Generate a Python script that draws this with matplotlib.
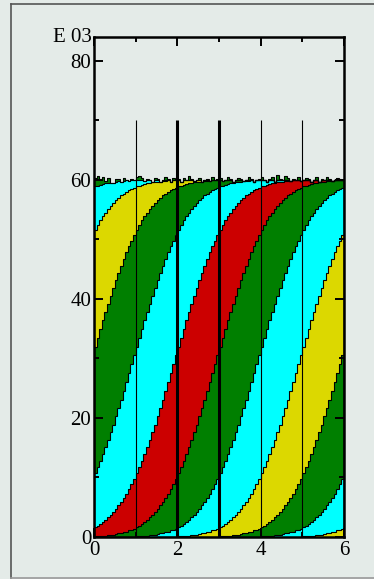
import numpy as np
import matplotlib
matplotlib.use("Agg")
import matplotlib.pyplot as plt
from matplotlib.lines import Line2D

plt.rcParams['font.family'] = ['Liberation Serif', 'DejaVu Serif']

# one band edge, 16 bins per unit, starting one unit
# left of the curve that passes 1.5 at x=0 (values in thousands)
edge_profile = [
    0.1, 0.1, 0.2, 0.2, 0.2, 0.3, 0.3, 0.4, 0.5, 0.6, 0.7, 0.8, 0.9, 1.1, 1.2, 1.4,
    1.7, 1.9, 2.2, 2.5, 2.9, 3.3, 3.7, 4.2, 4.7, 5.3, 5.9, 6.6, 7.3, 8.1, 8.9, 9.8,
    10.8, 11.8, 12.8, 14.0, 15.1, 16.3, 17.6, 18.9, 20.3, 21.7, 23.1, 24.5, 26.0, 27.5, 29.0, 30.5,
    31.9, 33.4, 34.9, 36.4, 37.8, 39.2, 40.5, 41.9, 43.2, 44.4, 45.6, 46.7, 47.8, 48.9, 49.8, 50.7,
    51.6, 52.4, 53.2, 53.9, 54.5, 55.1, 55.6, 56.1, 56.6, 57.0, 57.4, 57.7, 58.0, 58.3, 58.5, 58.7,
    58.9, 59.0, 59.2, 59.3, 59.4, 59.5, 59.6, 59.6, 59.7, 59.8, 59.8, 59.8, 59.9, 59.9, 59.9, 59.9,
]

# total height of the stack per bin (top edge, thousands)
stack_total = [
    60.3, 60.6, 60.2, 60.4, 59.8, 60.3, 59.5, 59.4, 60.1, 60.2, 59.7, 60.3, 60.0, 59.8, 60.2, 59.9,
    60.4, 60.7, 60.3, 59.8, 60.2, 59.9, 59.6, 60.3, 60.1, 59.7, 60.0, 60.5, 60.2, 59.6, 60.3, 59.9,
    60.2, 59.7, 60.3, 60.0, 60.6, 60.1, 59.8, 60.0, 60.3, 59.6, 60.0, 60.2, 59.8, 60.5, 59.9, 60.2,
    60.3, 59.8, 60.0, 60.5, 60.1, 59.6, 60.0, 60.3, 60.2, 59.8, 60.0, 60.4, 60.1, 59.6, 60.0, 60.2,
    60.5, 60.0, 59.7, 60.2, 60.4, 59.6, 60.9, 60.1, 59.9, 60.7, 60.3, 59.8, 60.2, 59.9, 60.5, 59.8,
    60.0, 60.3, 60.1, 59.7, 60.0, 60.4, 59.6, 60.2, 60.0, 60.5, 60.1, 59.8, 60.0, 60.3, 60.1, 60.0,
]

# shift (in x units) of each band edge, bottom to top
edge_shifts = [6, 5, 4, 3, 2, 1, 0, -1, -2, -3, -4]
# band colours, bottom to top
band_colors = ['#dcd800', '#00ffff', '#007f00', '#dcd800', '#00ffff', '#007f00',
               '#cc0000', '#00ffff', '#007f00', '#dcd800', '#00ffff', '#007f00']

marker_x = [1, 2, 3, 4, 5]
marker_lw = [0.8, 2.2, 2.2, 0.8, 0.8]
marker_top = 70

bins_per_unit = 16
x_min, x_max = 0, 6
y_max = 84
bg = '#e4ebe8'

nb = (x_max - x_min) * bins_per_unit
edges = np.linspace(x_min, x_max, nb + 1)
prof = np.array(edge_profile)
total = np.array(stack_total)

bounds = [np.zeros(nb)]
idx = np.arange(nb)
for s in edge_shifts:
    k = idx + bins_per_unit * (1 - s)
    c = np.where(k < 0, 0.0, prof[np.clip(k, 0, len(prof) - 1)])
    c = np.where(k >= len(prof), 60.0, c)
    bounds.append(np.minimum(c, total))
bounds.append(total)

fig = plt.figure(figsize=(3.74, 5.79), dpi=100, facecolor=bg)
ax = fig.add_axes([94 / 374, 1 - 537 / 579, 250 / 374, 500 / 579])
ax.set_facecolor(bg)

for i, col in enumerate(band_colors):
    ax.stairs(bounds[i + 1], edges, baseline=bounds[i], fill=True,
              color=col, lw=0, zorder=1)
for b in bounds[1:]:
    ax.stairs(b, edges, color='black', lw=0.8, zorder=2)

ax.vlines(marker_x, 0, marker_top, colors='black', linewidths=marker_lw, zorder=3)

ax.set_xlim(x_min, x_max)
ax.set_ylim(0, y_max)
ax.set_xticks([0, 2, 4, 6])
ax.set_xticks([1, 3, 5], minor=True)
ax.set_yticks([0, 20, 40, 60, 80])
ax.set_yticks([10, 30, 50, 70], minor=True)
ax.tick_params(which='both', direction='in', top=True, right=True,
               width=1.4, labelsize=15, zorder=4)
ax.tick_params(which='major', length=6.5)
ax.tick_params(which='minor', length=3.6)
ax.tick_params(axis='x', pad=3)
ax.tick_params(axis='y', pad=2)
for sp in ax.spines.values():
    sp.set_linewidth(1.8)
    sp.set_zorder(5)

ax.text(-0.01, 1.0, 'E 03', transform=ax.transAxes, ha='right', va='center',
        fontsize=15)

# canvas border
fig.add_artist(Line2D([11 / 374, 11 / 374], [1 - 4 / 579, 1 - 578 / 579],
                      transform=fig.transFigure, color='#555555', lw=1.2))
fig.add_artist(Line2D([11 / 374, 1], [1 - 4 / 579, 1 - 4 / 579],
                      transform=fig.transFigure, color='#555555', lw=1.2))
fig.add_artist(Line2D([11 / 374, 1], [1 - 578 / 579, 1 - 578 / 579],
                      transform=fig.transFigure, color='#999999', lw=1.2))

fig.savefig('out.png', dpi=100, facecolor=bg)
